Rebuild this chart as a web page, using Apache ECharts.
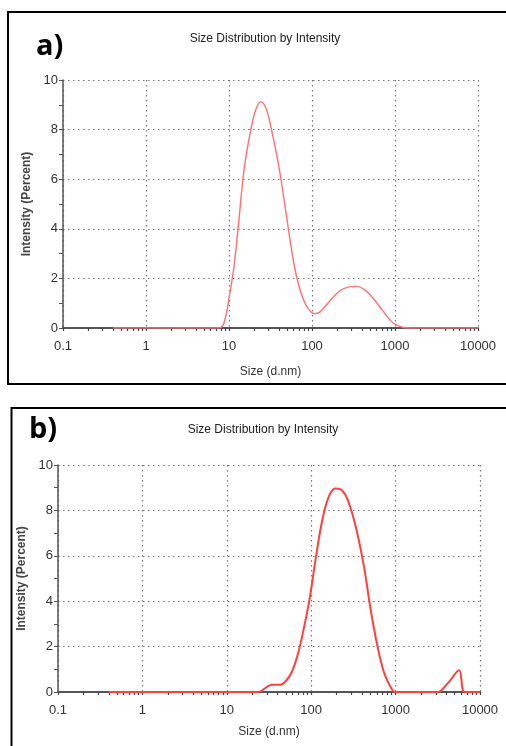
<!DOCTYPE html>
<html><head><meta charset="utf-8">
<script src="https://cdn.jsdelivr.net/npm/echarts@6/dist/echarts.min.js"></script>
<style>html,body{margin:0;padding:0;background:#fff}#c{width:506px;height:746px}</style>
</head><body><div id="c"></div>
<script>
const panelLabels = ['a)', 'b)'];
const chartTitle = 'Size Distribution by Intensity';
const xAxisName = 'Size (d.nm)';
const yAxisName = 'Intensity (Percent)';
const xTickLabels = ['0.1', '1', '10', '100', '1000', '10000'];
const yTickLabels = [0, 2, 4, 6, 8, 10];

const sizesA = [0.4, 7.6, 8.7, 10, 11.5, 13.2, 15.2, 18.3, 21.0, 24.2, 27.9, 32, 40.4, 50.9, 61.3, 74, 89, 107, 123, 162, 213, 270, 343, 432, 545, 722, 953, 1260, 1500, 10000];
const intensityA = [0, 0, 0.2, 1.2, 2.5, 4.4, 6.4, 8.0, 8.8, 9.13, 8.86, 8.1, 6.4, 4.2, 2.5, 1.4, 0.8, 0.58, 0.63, 1.07, 1.48, 1.65, 1.68, 1.54, 1.2, 0.67, 0.2, 0.02, 0, 0];

const sizesB = [0.4, 23.6, 29.7, 34.0, 42.7, 49, 58.9, 70.6, 84.8, 97.3, 111.6, 134, 161, 193, 221, 266, 334, 419, 504, 606, 726, 872, 1000, 3140, 4110, 5660, 6580, 10000];
const intensityB = [0, 0, 0.22, 0.32, 0.32, 0.44, 0.88, 1.76, 3.09, 4.26, 5.74, 7.5, 8.6, 8.97, 8.94, 8.53, 7.35, 5.59, 3.68, 2.06, 0.88, 0.22, 0, 0, 0.37, 0.96, 0, 0];

const FONT = "'Liberation Sans Narrow', 'Liberation Sans', Arial, sans-serif";
const lg = v => Math.log10(v);
const toPairs = (xs, ys) => xs.map((x, i) => [lg(x), ys[i]]);

// tick positions on the log axis (1..9 x each decade)
const logTicks = [];
for (let d = -1; d <= 3; d++) for (let k = 1; k <= 9; k++) logTicks.push(lg(k * Math.pow(10, d)));
logTicks.push(4);

const grids = [
  { left: 63, top: 80, width: 415, height: 248 },
  { left: 58, top: 465, width: 422, height: 227 }
];
const nameGaps = [38, 34];

const xAxes = [], yAxes = [];
grids.forEach((g, i) => {
  xAxes.push({
    type: 'value', gridIndex: i, min: -1, max: 4, interval: 1,
    name: xAxisName, nameLocation: 'middle', nameGap: nameGaps[i],
    nameTextStyle: { fontFamily: FONT, fontSize: 12, color: '#333' },
    axisLine: { show: true, onZero: false, lineStyle: { color: '#555', width: 2 } },
    axisTick: { show: false },
    axisLabel: { fontFamily: FONT, fontSize: 13, color: '#333', margin: 12,
      formatter: v => xTickLabels[Math.round(v) + 1] },
    splitLine: { show: true, lineStyle: { color: '#777', type: [1.5, 3.5], width: 1.2 } }
  });
  xAxes.push({
    type: 'value', gridIndex: i, min: -1, max: 4, position: 'bottom',
    axisLine: { show: false, onZero: false },
    axisTick: { show: true, customValues: logTicks, length: 3, lineStyle: { color: '#444', width: 1.2 } },
    axisLabel: { show: false },
    splitLine: { show: false }
  });
  yAxes.push({
    type: 'value', gridIndex: i, min: 0, max: 10, interval: 2,
    name: yAxisName, nameLocation: 'middle', nameGap: 19, nameRotate: 90,
    nameTextStyle: { fontFamily: FONT, fontSize: 12, color: '#444', fontWeight: 'bold' },
    axisLine: { show: true, onZero: false, lineStyle: { color: '#555', width: 1.5 } },
    axisTick: { show: true, length: 4, lineStyle: { color: '#555' } },
    minorTick: { show: true, splitNumber: 2, length: 4, lineStyle: { color: '#555' } },
    axisLabel: { fontFamily: FONT, fontSize: 13, color: '#333', margin: 5 },
    splitLine: { show: true, lineStyle: { color: '#777', type: [1.5, 3.5], width: 1.2 } }
  });
});

const option = {
  animation: false,
  backgroundColor: '#fff',
  title: [
    { text: chartTitle, left: 260, top: 28, textAlign: 'center',
      textStyle: { fontFamily: FONT, fontSize: 12, fontWeight: 'normal', color: '#222' } },
    { text: chartTitle, left: 258, top: 419, textAlign: 'center',
      textStyle: { fontFamily: FONT, fontSize: 12, fontWeight: 'normal', color: '#222' } },
    { text: panelLabels[0], left: 31, top: 27,
      textStyle: { fontFamily: "'Open Sans', sans-serif", fontSize: 29, fontWeight: 'bold', color: '#000' } },
    { text: panelLabels[1], left: 24, top: 410,
      textStyle: { fontFamily: "'Open Sans', sans-serif", fontSize: 29, fontWeight: 'bold', color: '#000' } }
  ],
  graphic: [
    { type: 'rect', shape: { x: 8, y: 12, width: 510, height: 372 }, style: { fill: 'none', stroke: '#000', lineWidth: 2 }, z: 100 },
    { type: 'rect', shape: { x: 11.5, y: 408, width: 510, height: 360 }, style: { fill: 'none', stroke: '#000', lineWidth: 2 }, z: 100 }
  ],
  grid: grids,
  xAxis: xAxes,
  yAxis: yAxes,
  series: [
    { type: 'line', xAxisIndex: 0, yAxisIndex: 0, data: toPairs(sizesA, intensityA),
      smooth: 0.35, symbol: 'none', lineStyle: { color: '#ff7070', width: 1.4 }, z: 5 },
    { type: 'line', xAxisIndex: 2, yAxisIndex: 1, data: toPairs(sizesB, intensityB),
      smooth: 0.35, symbol: 'none', lineStyle: { color: '#ff4040', width: 2 }, z: 5 }
  ]
};
echarts.init(document.getElementById('c'), null, { renderer: 'canvas' }).setOption(option);
</script></body></html>
